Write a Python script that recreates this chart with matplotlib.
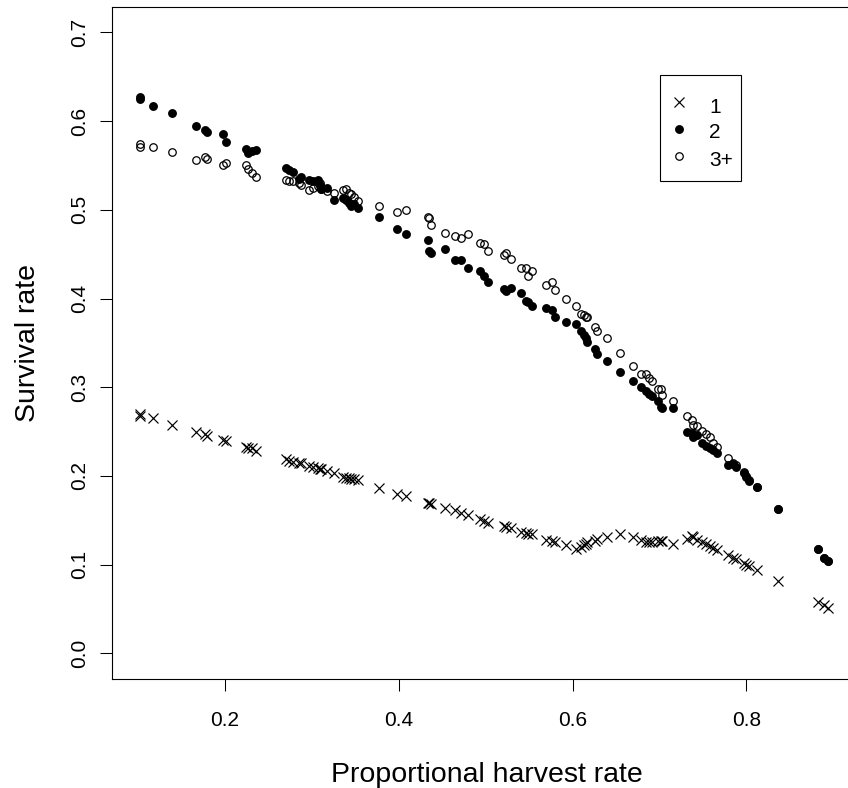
import matplotlib
matplotlib.use("Agg")
import matplotlib.pyplot as plt
from matplotlib.patches import Rectangle

plt.rcParams['font.family'] = ['Liberation Sans', 'DejaVu Sans']

# proportional harvest rate, shared by the three age classes
harvest = [0.102, 0.103, 0.117, 0.139, 0.167, 0.177, 0.180, 0.198, 0.201, 0.224,
           0.227, 0.231, 0.236, 0.271, 0.274, 0.278, 0.285, 0.288, 0.297, 0.301,
           0.307, 0.309, 0.311, 0.318, 0.326, 0.336, 0.340, 0.343, 0.345, 0.349,
           0.353, 0.377, 0.398, 0.408, 0.434, 0.435, 0.437, 0.453, 0.465, 0.472,
           0.480, 0.494, 0.498, 0.503, 0.521, 0.524, 0.529, 0.541, 0.546, 0.549,
           0.553, 0.570, 0.576, 0.580, 0.592, 0.604, 0.610, 0.613, 0.615, 0.617,
           0.626, 0.628, 0.640, 0.655, 0.669, 0.679, 0.684, 0.688, 0.691, 0.698,
           0.702, 0.703, 0.716, 0.732, 0.737, 0.739, 0.743, 0.749, 0.753, 0.758,
           0.762, 0.766, 0.779, 0.784, 0.788, 0.797, 0.800, 0.803, 0.812, 0.836,
           0.882, 0.889, 0.894]

# survival, age 1
surv_1 = [0.270, 0.268, 0.265, 0.257, 0.250, 0.247, 0.245, 0.241, 0.239, 0.233,
          0.232, 0.231, 0.228, 0.219, 0.217, 0.216, 0.215, 0.214, 0.211, 0.210,
          0.209, 0.208, 0.208, 0.205, 0.203, 0.199, 0.198, 0.198, 0.197, 0.196,
          0.195, 0.186, 0.180, 0.177, 0.170, 0.169, 0.168, 0.164, 0.161, 0.158,
          0.156, 0.151, 0.149, 0.147, 0.143, 0.142, 0.141, 0.137, 0.136, 0.135,
          0.134, 0.128, 0.127, 0.125, 0.122, 0.118, 0.120, 0.122, 0.123, 0.125,
          0.127, 0.129, 0.131, 0.134, 0.131, 0.128, 0.125, 0.126, 0.126, 0.127,
          0.127, 0.127, 0.123, 0.129, 0.132, 0.131, 0.128, 0.125, 0.123, 0.121,
          0.119, 0.117, 0.111, 0.108, 0.106, 0.102, 0.100, 0.098, 0.094, 0.082,
          0.058, 0.054, 0.051]

# survival, age 2
surv_2 = [0.627, 0.625, 0.617, 0.609, 0.595, 0.590, 0.588, 0.586, 0.577, 0.568,
          0.564, 0.566, 0.567, 0.547, 0.545, 0.543, 0.535, 0.537, 0.534, 0.532,
          0.534, 0.528, 0.523, 0.525, 0.511, 0.513, 0.511, 0.508, 0.504, 0.506,
          0.502, 0.492, 0.478, 0.473, 0.466, 0.454, 0.451, 0.456, 0.443, 0.443,
          0.434, 0.431, 0.425, 0.419, 0.411, 0.409, 0.412, 0.406, 0.397, 0.396,
          0.391, 0.389, 0.387, 0.379, 0.374, 0.371, 0.363, 0.359, 0.355, 0.351,
          0.343, 0.338, 0.330, 0.317, 0.307, 0.300, 0.296, 0.292, 0.290, 0.285,
          0.278, 0.276, 0.276, 0.250, 0.248, 0.244, 0.246, 0.237, 0.234, 0.231,
          0.229, 0.226, 0.212, 0.213, 0.210, 0.203, 0.199, 0.194, 0.187, 0.163,
          0.118, 0.108, 0.104]

# survival, age 3+
surv_3 = [0.571, 0.574, 0.571, 0.565, 0.556, 0.560, 0.557, 0.550, 0.553, 0.550,
          0.546, 0.542, 0.537, 0.534, 0.533, 0.532, 0.530, 0.528, 0.522, 0.525,
          0.527, 0.530, 0.524, 0.521, 0.519, 0.522, 0.524, 0.519, 0.518, 0.515,
          0.510, 0.504, 0.498, 0.500, 0.492, 0.491, 0.483, 0.474, 0.470, 0.468,
          0.473, 0.463, 0.462, 0.454, 0.449, 0.451, 0.445, 0.434, 0.434, 0.425,
          0.431, 0.415, 0.419, 0.410, 0.400, 0.392, 0.382, 0.381, 0.379, 0.379,
          0.368, 0.363, 0.356, 0.339, 0.324, 0.315, 0.315, 0.310, 0.307, 0.298,
          0.298, 0.291, 0.284, 0.267, 0.263, 0.257, 0.256, 0.251, 0.247, 0.244,
          0.237, 0.233, 0.220, 0.215, 0.212, 0.204, 0.200, 0.195, 0.188, 0.163,
          0.118, 0.108, 0.104]

age_labels = ['1', '2', '3+']
x_ticks = [0.2, 0.4, 0.6, 0.8]
x_tick_labels = ['0.2', '0.4', '0.6', '0.8']
y_ticks = [0.0, 0.1, 0.2, 0.3, 0.4, 0.5, 0.6, 0.7]
y_tick_labels = ['0.0', '0.1', '0.2', '0.3', '0.4', '0.5', '0.6', '0.7']

styles = [
    dict(marker='x', color='black', markersize=7.0, markeredgewidth=0.85),
    dict(marker='o', color='black', markersize=6.4, markeredgewidth=0),
    dict(marker='o', markerfacecolor='none', markeredgecolor='black',
         markersize=5.4, markeredgewidth=0.9),
]

fig = plt.figure(figsize=(8.48, 7.88), dpi=100)
ax = fig.add_axes([0.1317, 0.1383, 0.886, 0.8532])

for ys, st in zip([surv_1, surv_3, surv_2], [styles[0], styles[2], styles[1]]):
    ax.plot(harvest, ys, linestyle='none', **st)

ax.set_xlim(0.070, 0.934)
ax.set_ylim(-0.029, 0.729)

ax.set_xticks(x_ticks)
ax.set_xticklabels(x_tick_labels)
ax.set_yticks(y_ticks)
ax.set_yticklabels(y_tick_labels, rotation=90, va='center')
ax.tick_params(direction='out', length=8.6, width=0.75, labelsize=15, colors='black')
ax.tick_params(axis='x', pad=14.4)
ax.tick_params(axis='y', pad=7.5)
for sp in ax.spines.values():
    sp.set_linewidth(0.8)

# legend box
ax.add_patch(Rectangle((0.700, 0.533), 0.094, 0.119, fill=False,
                       edgecolor='black', linewidth=0.8, zorder=5))
sym_y = [0.622, 0.591, 0.561]
txt_y = [0.609, 0.581, 0.5495]
for lab, sy, ty, st in zip(age_labels, sym_y, txt_y, styles):
    ax.plot([0.722], [sy], linestyle='none', **st)
    ax.text(0.757, ty, lab, fontsize=15, ha='left', va='baseline')

fig.text(487 / 848, (788 - 781.7) / 788, 'Proportional harvest rate',
         fontsize=20.5, ha='center', va='baseline')
fig.text(35 / 848, (788 - 343) / 788, 'Survival rate', fontsize=20.5,
         rotation=90, rotation_mode='anchor', ha='center', va='baseline')

fig.savefig('out.png', dpi=100)
